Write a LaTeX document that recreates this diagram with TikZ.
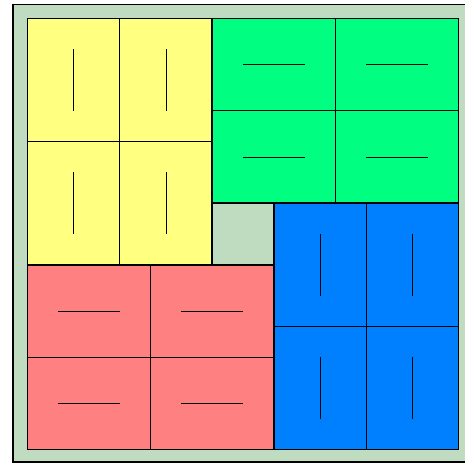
\documentclass[tikz,border=0pt]{standalone}
\definecolor{bggreen}{RGB}{192,220,192}
\definecolor{tyellow}{RGB}{255,255,128}
\definecolor{tgreen}{RGB}{0,255,128}
\definecolor{tblue}{RGB}{0,128,255}
\definecolor{tred}{RGB}{255,128,128}
\tikzset{
  frameline/.style={draw=black,line width=1.6pt},
  tileedge/.style={draw=black,line width=1.5pt},
  celldiv/.style={draw=black,line width=1pt},
  midmark/.style={draw=black,line width=0.9pt},
}
% #1 x0, #2 y0, #3 x1, #4 y1, #5 colour, #6 mark x-factor, #7 mark y-factor
\newcommand\pwtile[7]{%
  \fill[#5] (#1,#2) rectangle (#3,#4);
  \pgfmathsetmacro\pwxm{(#1+#3)/2}%
  \pgfmathsetmacro\pwym{(#2+#4)/2}%
  \draw[celldiv] (\pwxm,#2) -- (\pwxm,#4);
  \draw[celldiv] (#1,\pwym) -- (#3,\pwym);
  \foreach \fx in {0.25,0.75}{%
    \foreach \fy in {0.25,0.75}{%
      \pgfmathsetmacro\pwcx{#1+\fx*(#3-#1)}%
      \pgfmathsetmacro\pwcy{#2+\fy*(#4-#2)}%
      \pgfmathsetmacro\pwhx{#6*(#3-#1)/8}%
      \pgfmathsetmacro\pwhy{#7*(#4-#2)/8}%
      \draw[midmark] (\pwcx-\pwhx,\pwcy-\pwhy) -- (\pwcx+\pwhx,\pwcy+\pwhy);
    }%
  }%
  \draw[tileedge] (#1,#2) rectangle (#3,#4);
}
\begin{document}
\begin{tikzpicture}[x=1pt,y=-1pt]
\useasboundingbox (0,0) rectangle (465,463);
\clip (0,0) rectangle (465,463);
\filldraw[frameline,fill=bggreen] (13,4.5) rectangle (480,462);
% inner square 27.5..458.5 x 18.5..449.5, split 3:4
\pwtile{27.5}{18.5}{212.2}{264.8}{tyellow}{0}{1}
\pwtile{212.2}{18.5}{458.5}{203.2}{tgreen}{1}{0}
\pwtile{273.8}{203.2}{458.5}{449.5}{tblue}{0}{1}
\pwtile{27.5}{264.8}{273.8}{449.5}{tred}{1}{0}
\draw[tileedge] (27.5,18.5) rectangle (458.5,449.5);
\end{tikzpicture}
\end{document}
